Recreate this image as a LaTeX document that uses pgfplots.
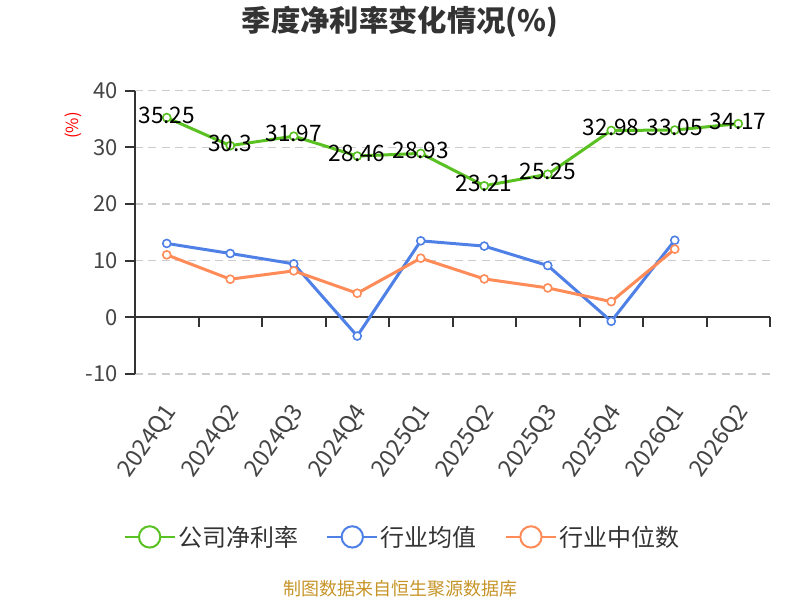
\documentclass[border=0pt]{standalone}
\usepackage{pgfplots}
\pgfplotsset{compat=1.18}
\usepackage{fontspec}
\setmainfont{Noto Sans CJK SC}
\definecolor{gc}{RGB}{89,193,33}
\definecolor{bc}{RGB}{78,128,230}
\definecolor{oc}{RGB}{255,139,88}
\definecolor{axc}{RGB}{51,51,51}
\definecolor{tkc}{RGB}{68,68,68}
\definecolor{grc}{RGB}{204,204,204}
\definecolor{src}{RGB}{198,148,40}
\begin{document}
\begin{tikzpicture}
\useasboundingbox (0,0) rectangle (600pt,450pt);
\node[font=\fontsize{22}{25}\selectfont\bfseries, color=axc] at (300pt,434pt) {季度净利率变化情况(\%)};
\node[font=\fontsize{12.5}{14}\selectfont, color=red, rotate=90] at (54.75pt,356pt) {(\%)};
\node[font=\fontsize{13.5}{15}\selectfont, color=src] at (300pt,8.5pt) {制图数据来自恒生聚源数据库};
\begin{axis}[
  at={(101.25pt,169.5pt)}, anchor=south west,
  scale only axis, width=476.25pt, height=212.5pt,
  xmin=-0.5, xmax=9.5, ymin=-10, ymax=40,
  axis x line*=bottom, axis y line*=left,
  x axis line style={draw=none},
  y axis line style={draw=axc, line width=1.5pt, -},
  xtick={0,...,9},
  xticklabels={2024Q1,2024Q2,2024Q3,2024Q4,2025Q1,2025Q2,2025Q3,2025Q4,2026Q1,2026Q2},
  major x tick style={draw=none},
  ytick={-10,0,10,20,30,40},
  tick align=outside, major tick length=7.5pt,
  major y tick style={draw=axc, line width=1.5pt},
  ymajorgrids, grid style={draw=grc, line width=1.1pt, dash pattern=on 6pt off 4pt},
  /pgf/number format/assume math mode=true,
  yticklabel style={font=\fontsize{16.5}{18}\selectfont, color=tkc, xshift=-2pt},
  xticklabel style={font=\fontsize{17.5}{19}\selectfont, color=tkc, rotate=55, anchor=north east, yshift=-1.5pt, xshift=-9pt},
  legend style={at={(0.422,-0.575)}, anchor=center, draw=none, fill=none, legend columns=3,
    font=\fontsize{18}{20}\selectfont, text=axc,
    /tikz/every even column/.append style={column sep=19pt}},
  legend cell align=left,
  clip=false,
]
\draw[axc, line width=1.5pt] (axis cs:-0.5,0) -- (axis cs:9.5,0);
\pgfplotsinvokeforeach{0.5,1.5,2.5,3.5,4.5,5.5,6.5,7.5,8.5,9.5}{\draw[axc, line width=1.5pt] (axis cs:#1,0) -- (axis cs:#1,-1.75);}
\addplot[gc, line width=2.25pt, mark=*, mark size=3pt, mark options={fill=white, draw=gc, line width=1.2pt},
  nodes near coords, point meta=explicit symbolic,
  every node near coord/.style={anchor=center, yshift=2pt, font=\fontsize{17}{19}\selectfont, text=black},
  legend image code/.code={\draw[gc, line width=1.5pt] (0pt,0pt) -- (37.5pt,0pt); \draw[gc, line width=1.5pt, fill=white] (18.75pt,0pt) circle (8pt);}]
coordinates {(0,35.25)[35.25] (1,30.3)[30.3] (2,31.97)[31.97] (3,28.46)[28.46] (4,28.93)[28.93] (5,23.21)[23.21] (6,25.25)[25.25] (7,32.98)[32.98] (8,33.05)[33.05] (9,34.17)[34.17]};
\addlegendentry{公司净利率}
\addplot[bc, line width=2.25pt, mark=*, mark size=3pt, mark options={fill=white, draw=bc, line width=1.2pt},
  legend image code/.code={\draw[bc, line width=1.5pt] (0pt,0pt) -- (37.5pt,0pt); \draw[bc, line width=1.5pt, fill=white] (18.75pt,0pt) circle (8pt);}]
coordinates {(0,13.04) (1,11.27) (2,9.44) (3,-3.3) (4,13.5) (5,12.57) (6,9.14) (7,-0.7) (8,13.6)};
\addlegendentry{行业均值}
\addplot[oc, line width=2.25pt, mark=*, mark size=3pt, mark options={fill=white, draw=oc, line width=1.2pt},
  legend image code/.code={\draw[oc, line width=1.5pt] (0pt,0pt) -- (37.5pt,0pt); \draw[oc, line width=1.5pt, fill=white] (18.75pt,0pt) circle (8pt);}]
coordinates {(0,11.03) (1,6.73) (2,8.2) (3,4.25) (4,10.44) (5,6.78) (6,5.19) (7,2.77) (8,12.04)};
\addlegendentry{行业中位数}
\end{axis}
\end{tikzpicture}
\end{document}
